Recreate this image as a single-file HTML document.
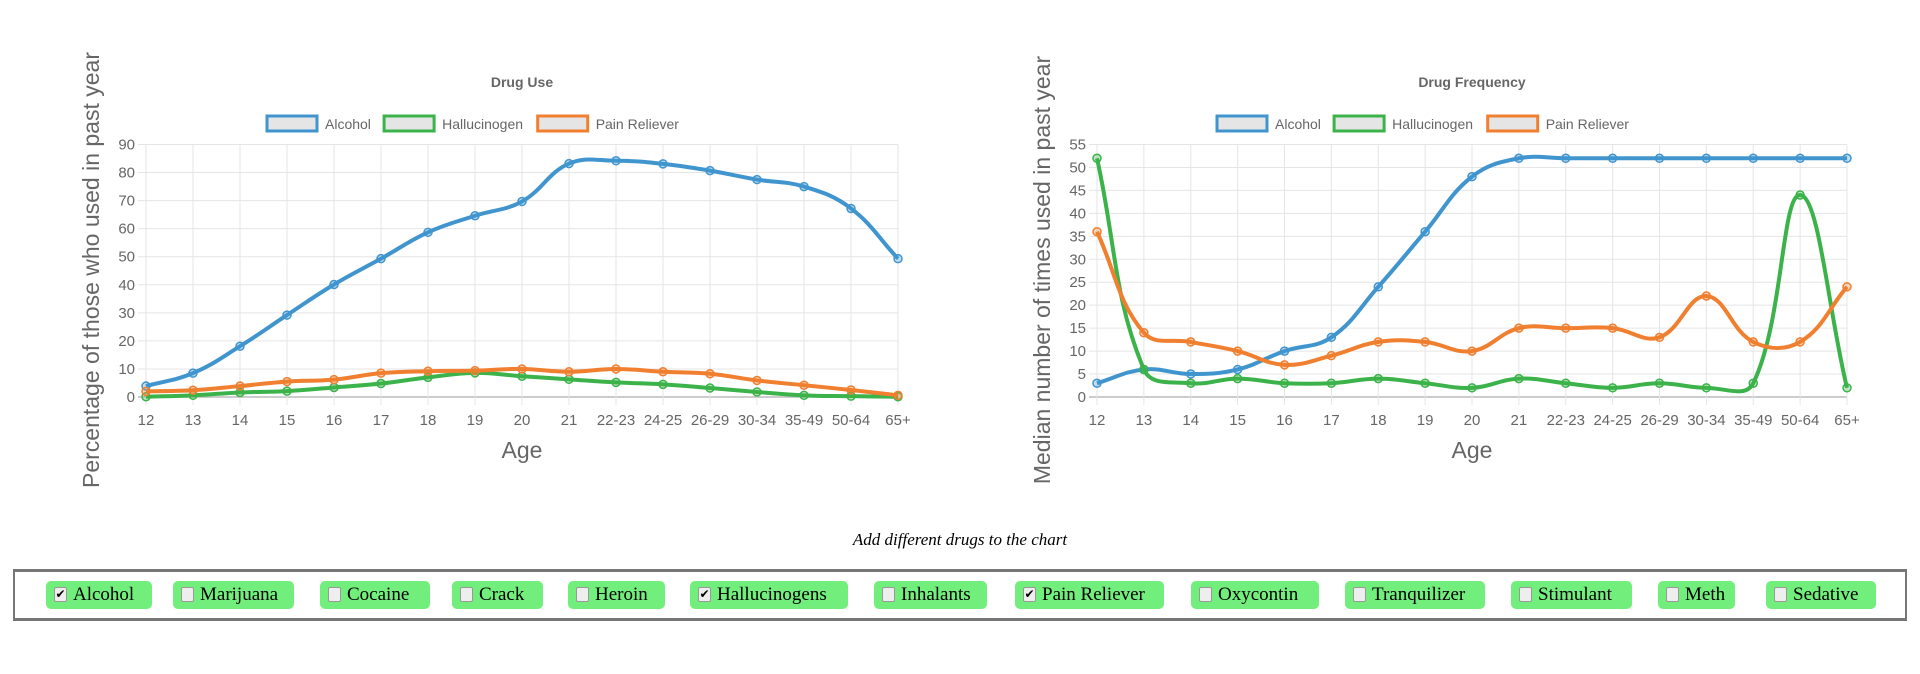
<!DOCTYPE html>
<html><head><meta charset="utf-8"><style>
body{margin:0;width:1920px;height:674px;background:#fff;overflow:hidden;font-family:"Liberation Sans",sans-serif;position:relative}
svg{position:absolute;left:0;top:0}
.note{position:absolute;left:0;width:1920px;top:530px;text-align:center;font:italic 17px "Liberation Serif",serif;color:#000}
.box{position:absolute;left:13px;top:569px;width:1890px;height:46px;border:2px solid #777;border-top-width:3px;border-bottom-width:3px}
.btn{position:absolute;top:9px;height:28px;background:#72ee7c;border-radius:5px;font:19px "Liberation Serif",serif;line-height:28px;box-sizing:border-box;padding-left:27px;color:#000;white-space:nowrap}
.btn i{position:absolute;left:8px;top:6px;width:11px;height:13px;border:1px solid #999;border-radius:2px;background:#eee;font-style:normal;font-size:12px;line-height:13px;text-align:center}
</style></head><body>
<svg id="chart" width="1920" height="530"></svg>
<div class="note">Add different drugs to the chart</div>
<div class="box">
<label class="btn" style="left:31px;width:106px"><i>✔</i>Alcohol</label>
<label class="btn" style="left:158px;width:121px"><i></i>Marijuana</label>
<label class="btn" style="left:305px;width:110px"><i></i>Cocaine</label>
<label class="btn" style="left:437px;width:91px"><i></i>Crack</label>
<label class="btn" style="left:553px;width:97px"><i></i>Heroin</label>
<label class="btn" style="left:675px;width:158px"><i>✔</i>Hallucinogens</label>
<label class="btn" style="left:859px;width:113px"><i></i>Inhalants</label>
<label class="btn" style="left:1000px;width:149px"><i>✔</i>Pain Reliever</label>
<label class="btn" style="left:1176px;width:128px"><i></i>Oxycontin</label>
<label class="btn" style="left:1330px;width:140px"><i></i>Tranquilizer</label>
<label class="btn" style="left:1496px;width:121px"><i></i>Stimulant</label>
<label class="btn" style="left:1643px;width:77px"><i></i>Meth</label>
<label class="btn" style="left:1751px;width:110px"><i></i>Sedative</label>
</div>
<script>
const categories=["12","13","14","15","16","17","18","19","20","21","22-23","24-25","26-29","30-34","35-49","50-64","65+"];
const useAlcohol=[3.9,8.5,18.1,29.2,40.1,49.3,58.7,64.6,69.7,83.2,84.2,83.1,80.7,77.5,75,67.2,49.3];
const useHalluc=[0.1,0.6,1.6,2.1,3.4,4.8,7,8.6,7.4,6.3,5.2,4.5,3.2,1.8,0.6,0.3,0.1];
const usePain=[2,2.4,3.9,5.5,6.2,8.5,9.2,9.4,10,9,10,9,8.3,5.9,4.2,2.5,0.6];
const freqAlcohol=[3,6,5,6,10,13,24,36,48,52,52,52,52,52,52,52,52];
const freqHalluc=[52,6,3,4,3,3,4,3,2,4,3,2,3,2,3,44,2];
const freqPain=[36,14,12,10,7,9,12,12,10,15,15,15,13,22,12,12,24];
const useTicks=[0,10,20,30,40,50,60,70,80,90];
const freqTicks=[0,5,10,15,20,25,30,35,40,45,50,55];
const legendNames=["Alcohol","Hallucinogen","Pain Reliever"];
const colors=["#4095cf","#3bb34a","#f07f30"];
const svg=document.getElementById('chart');
const NS="http://www.w3.org/2000/svg";
function mk(t,a,txt){const e=document.createElementNS(NS,t);for(const k in a)e.setAttribute(k,a[k]);if(txt!=null)e.textContent=txt;svg.appendChild(e);return e;}
function path(pts){
  let d="M"+pts[0][0]+","+pts[0][1];const T=0.4;const cp=[];
  for(let i=0;i<pts.length;i++){
    const p=pts[Math.max(i-1,0)],c=pts[i],n=pts[Math.min(i+1,pts.length-1)];
    const d01=Math.hypot(c[0]-p[0],c[1]-p[1]),d12=Math.hypot(n[0]-c[0],n[1]-c[1]);
    let fa=d01/(d01+d12),fb=d12/(d01+d12);if(isNaN(fa))fa=0;if(isNaN(fb))fb=0;
    cp.push([[c[0]-T*fa*(n[0]-p[0]),c[1]-T*fa*(n[1]-p[1])],[c[0]+T*fb*(n[0]-p[0]),c[1]+T*fb*(n[1]-p[1])]]);
  }
  for(let i=1;i<pts.length;i++){const a=cp[i-1][1],b=cp[i][0];d+=` C${a[0]},${a[1]} ${b[0]},${b[1]} ${pts[i][0]},${pts[i][1]}`;}
  return d;
}
function chart(o){
  const x0=o.x0,x1=o.x1,y0=397,y1=144.5,max=o.ticks[o.ticks.length-1];
  const X=i=>x0+(x1-x0)*i/(categories.length-1),Y=v=>y0+(y1-y0)*v/max;
  let t=mk('text',{x:o.cx,y:87,'text-anchor':'middle','font-size':14,'font-weight':'bold',fill:'#666'},o.title);
  
  let lx=o.cx-255;
  legendNames.forEach((n,i)=>{
    let r=mk('rect',{x:lx,y:116,width:50,height:15,fill:'#e5e5e5',stroke:colors[i],'stroke-width':3});
    
    let tt=mk('text',{x:lx+58,y:129,'font-size':14,fill:'#666'},n);
    
    lx+=58+(n.length*7.3)+8;
  });
  o.ticks.forEach(v=>{mk('line',{x1:x0-8,x2:x1,y1:Y(v),y2:Y(v),stroke:v==0?'#bbb':'#e5e5e5','stroke-width':v==0?1.5:1});
    let l=mk('text',{x:x0-11,y:Y(v)+5,'text-anchor':'end','font-size':15,fill:'#666'},v);
    });
  categories.forEach((c,i)=>{mk('line',{x1:X(i),x2:X(i),y1:y1,y2:y0+8,stroke:'#e5e5e5'});
    let l=mk('text',{x:X(i),y:425,'text-anchor':'middle','font-size':15,fill:'#666'},c);
    });
  let xt=mk('text',{x:(x0+x1)/2,y:458,'text-anchor':'middle','font-size':23,fill:'#666'},'Age');
  
  let yt=mk('text',{x:0,y:0,'text-anchor':'middle','font-size':23,fill:'#666',transform:`translate(${o.yx},270) rotate(-90)`},o.ytitle);
  
  o.series.forEach((s,si)=>{
    const pts=s.map((v,i)=>[X(i),Y(v)]);
    let p=mk('path',{d:path(pts),fill:'none',stroke:colors[si],'stroke-width':4});
    
    pts.forEach(q=>{let c=mk('circle',{cx:q[0],cy:q[1],r:4,fill:colors[si],'fill-opacity':0.3,stroke:colors[si],'stroke-width':1.5});
      });
  });
}
chart({key:'use',title:'Drug Use',x0:146,x1:898,cx:522,yx:99,ticks:useTicks,ytitle:'Percentage of those who used in past year',series:[useAlcohol,useHalluc,usePain]});
chart({key:'freq',title:'Drug Frequency',x0:1097,x1:1847,cx:1472,yx:1050,ticks:freqTicks,ytitle:'Median number of times used in past year',series:[freqAlcohol,freqHalluc,freqPain]});
</script>
</body></html>
